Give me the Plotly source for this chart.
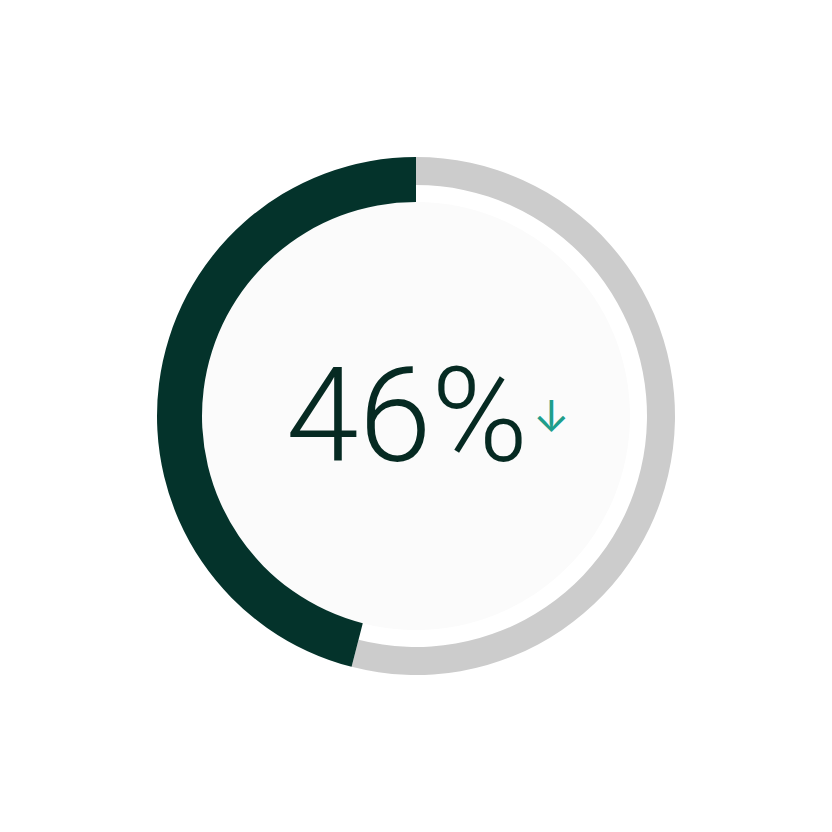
import plotly.graph_objects as go

# gauge data (the remaining share is listed first so the score arc ends at 12 o'clock)
labels = ["Remaining", "Score"]
values = [54, 46]
display_value = "46%"
trend_symbol = "↓"

dark = "#04332b"
track = "#cccccc"
teal = "#1f9e8b"

# page body has an 8px margin, so convert screen pixels to paper units
def px(x):
    return (x - 8) / 832

def py(y):
    return 1 - (y - 8) / 832

cx, cy, r_out = 416, 416, 259
dom_x = [px(cx - r_out), px(cx + r_out)]
dom_y = [py(cy + r_out), py(cy - r_out)]

fig = go.Figure()

# thin grey track (only the remaining part is visible)
fig.add_trace(go.Pie(
    labels=labels, values=values, sort=False, direction="clockwise",
    rotation=0, hole=231 / 259,
    marker=dict(colors=[track, "rgba(0,0,0,0)"], line=dict(width=0)),
    textinfo="none", hoverinfo="skip", showlegend=False,
    domain=dict(x=dom_x, y=dom_y),
))

# thick dark arc for the score
fig.add_trace(go.Pie(
    labels=labels, values=values, sort=False, direction="clockwise",
    rotation=0, hole=214 / 259,
    marker=dict(colors=["rgba(0,0,0,0)", dark], line=dict(width=0)),
    textinfo="none", hoverinfo="skip", showlegend=False,
    domain=dict(x=dom_x, y=dom_y),
))

# faint inner disc
fig.add_shape(type="circle", xref="paper", yref="paper",
              x0=px(cx - 214), x1=px(cx + 214),
              y0=py(cy + 214), y1=py(cy - 214),
              fillcolor="#fbfbfb", line=dict(width=0), layer="below")

fig.add_annotation(text=display_value, x=px(407), y=py(416), xref="paper", yref="paper",
                   showarrow=False, xanchor="center", yanchor="middle",
                   font=dict(family="Roboto", size=131, weight=300, color="#062a22"))
fig.add_annotation(text=trend_symbol, x=px(551), y=py(416), xref="paper", yref="paper",
                   showarrow=False, xanchor="center", yanchor="middle",
                   font=dict(family="Inter", size=44, color=teal))

fig.update_layout(width=832, height=832, margin=dict(l=0, r=0, t=0, b=0),
                  paper_bgcolor="white", plot_bgcolor="white")

fig.write_html("out.html")
